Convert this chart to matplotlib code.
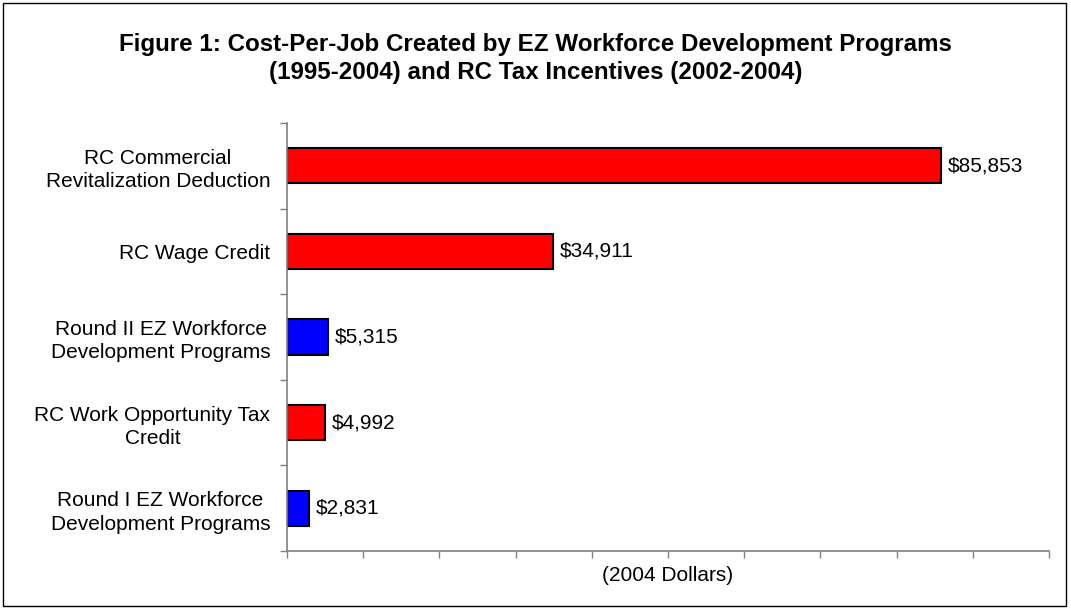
import matplotlib.pyplot as plt
from matplotlib.patches import Rectangle
import numpy as np

plt.rcParams['font.family'] = ['Liberation Sans', 'DejaVu Sans']

# data (top to bottom)
programs = ['RC Commercial\nRevitalization Deduction',
            'RC Wage Credit',
            'Round II EZ Workforce\nDevelopment Programs',
            'RC Work Opportunity Tax\nCredit',
            'Round I EZ Workforce\nDevelopment Programs']
cost_per_job = [85853, 34911, 5315, 4992, 2831]
bar_colors = ['#ff0000', '#ff0000', '#0000ff', '#ff0000', '#0000ff']
title_lines = ['Figure 1: Cost-Per-Job Created by EZ Workforce Development Programs',
               '(1995-2004) and RC Tax Incentives (2002-2004)']

fig = plt.figure(figsize=(10.71, 6.09), dpi=100)
ax = fig.add_axes([0.268, 0.0952, 0.7115, 0.703])

y = np.arange(len(programs))[::-1]
ax.barh(y, cost_per_job, height=0.41, color=bar_colors, edgecolor='black', linewidth=1.5)

for yi, v in zip(y, cost_per_job):
    ax.text(v + 900, yi, f'${v:,}', va='center', ha='left', fontsize=15)

ax.set_xlim(0, 100000)
ax.set_ylim(-0.5, len(programs) - 0.5)
ax.set_xticks(np.arange(0, 100001, 10000))
ax.set_xticklabels([])
ax.set_yticks(y)
ax.set_yticklabels(programs, fontsize=15, multialignment='center', linespacing=1.3)
ax.set_yticks(np.arange(-0.5, len(programs)), minor=True)
ax.tick_params(axis='y', which='major', length=0, pad=12)
ax.tick_params(axis='y', which='minor', length=5, color='#808080', width=1)
ax.tick_params(axis='x', length=5, color='#808080', width=1)

for s in ['top', 'right']:
    ax.spines[s].set_visible(False)
for s in ['left', 'bottom']:
    ax.spines[s].set_color('#808080')
    ax.spines[s].set_linewidth(1.2)

ax.set_xlabel('(2004 Dollars)', fontsize=15, labelpad=2)

fig.text(0.5, 1 - 44 / 609, title_lines[0], ha='center', va='center',
         fontsize=17.4, fontweight='bold')
fig.text(0.5, 1 - 72 / 609, title_lines[1], ha='center', va='center',
         fontsize=17.4, fontweight='bold')

# outer frame
fig.patches.append(Rectangle((2.5 / 1071, 3 / 609), 1063.5 / 1071, 603.5 / 609,
                             transform=fig.transFigure, fill=False, edgecolor='black', linewidth=1))

fig.savefig('out.png', dpi=100)
